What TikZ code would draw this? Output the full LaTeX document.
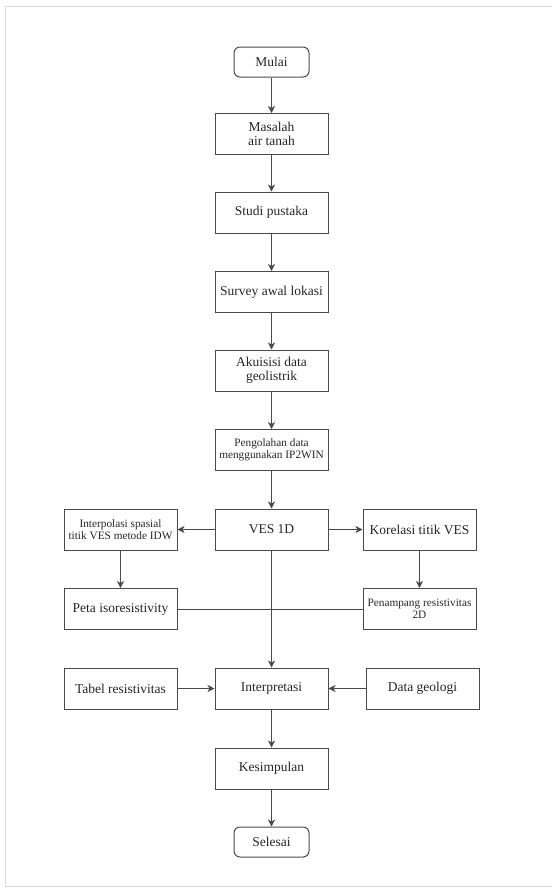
\documentclass[tikz,border=0pt]{standalone}
\usepackage{fontspec}
\setmainfont{Liberation Serif}
\usetikzlibrary{arrows.meta}
\definecolor{ln}{HTML}{4A4A4A}
\definecolor{fr}{HTML}{D8D8D8}
\begin{document}
\begin{tikzpicture}[x=1pt,y=-1pt,
  box/.style={draw=ln,line width=1pt,minimum width=113pt,minimum height=41pt,inner sep=1pt,align=center,font=\fontsize{13.5}{14}\selectfont,text=black!85},
  sbox/.style={box,font=\fontsize{11.3}{12.5}\selectfont},
  term/.style={box,rounded corners=6pt,minimum width=75pt,minimum height=30pt},
  arr/.style={draw=ln,line width=1pt,-{Stealth[length=7pt,width=7pt,inset=2pt]}},
  lnk/.style={draw=ln,line width=1pt}]
\useasboundingbox (0,0) rectangle (552,892);
\draw[fr,line width=1.2pt] (552,6.5) -- (5.5,6.5) -- (5.5,886.5) -- (552,886.5);
\node[term] (mulai) at (271.5,62) {Mulai};
\node[box] (masalah) at (271.5,134) {Masalah\\air tanah};
\node[box] (studi) at (271.5,212.5) {Studi pustaka};
\node[box] (survey) at (271.5,292) {Survey awal lokasi};
\node[box] (akuisisi) at (271.5,370.5) {Akuisisi data\\geolistrik};
\node[sbox] (olah) at (271.5,450) {Pengolahan data\\menggunakan IP2WIN};
\node[box] (ves) at (271.5,529.5) {VES 1D};
\node[sbox] (interp) at (120.5,529.5) {Interpolasi spasial\\titik VES metode IDW};
\node[box] (korel) at (419.5,529.5) {Korelasi titik VES};
\node[box] (peta) at (120.5,609) {Peta isoresistivity};
\node[sbox] (penamp) at (419.5,609) {Penampang resistivitas\\2D};
\node[box] (tabel) at (120.5,688.5) {Tabel resistivitas};
\node[box] (interpr) at (271.5,688.5) {Interpretasi};
\node[box] (geologi) at (422.5,688.5) {Data geologi};
\node[box] (kesimp) at (271.5,768.5) {Kesimpulan};
\node[term] (selesai) at (271.5,842) {Selesai};
\draw[arr] (mulai) -- (masalah);
\draw[arr] (masalah) -- (studi);
\draw[arr] (studi) -- (survey);
\draw[arr] (survey) -- (akuisisi);
\draw[arr] (akuisisi) -- (olah);
\draw[arr] (olah) -- (ves);
\draw[arr] (ves) -- (interp);
\draw[arr] (ves) -- (korel);
\draw[arr] (interp) -- (peta);
\draw[arr] (korel) -- (penamp);
\draw[lnk] (peta) -- (penamp);
\draw[arr] (ves) -- (interpr);
\draw[arr] (tabel) -- (interpr);
\draw[arr] (geologi) -- (interpr);
\draw[arr] (interpr) -- (kesimp);
\draw[arr] (kesimp) -- (selesai);
\end{tikzpicture}
\end{document}
